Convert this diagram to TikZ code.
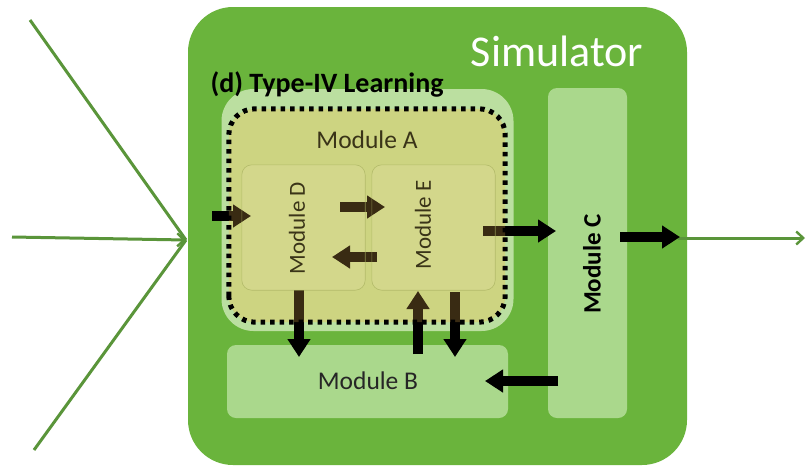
\documentclass[tikz,border=0pt]{standalone}
\usepackage{fontspec}
\setmainfont{Carlito}
\usetikzlibrary{arrows.meta,calc}
\definecolor{simg}{HTML}{6AB43C}
\definecolor{halog}{HTML}{BBDFA0}
\definecolor{moda}{HTML}{D3F29E}
\definecolor{overl}{HTML}{C09040}
\definecolor{modde}{HTML}{DCF7AC}
\definecolor{modline}{HTML}{A8B060}
\definecolor{modc}{HTML}{AAD88C}
\definecolor{linkg}{HTML}{5A953A}
\definecolor{txtd}{HTML}{3A3418}
\tikzset{
  blk/.style={draw=none,inner sep=0pt},
  bigarrow/.style={line width=10pt,-{Triangle[length=18pt,width=22pt]}},
  greenline/.style={draw=linkg,line width=3pt},
  greenarrow/.style={greenline,-{Straight Barb[length=7pt,width=13pt,line width=2.4pt]}}
}
\begin{document}
\begin{tikzpicture}[x=1pt,y=-1pt]
\useasboundingbox (0,0) rectangle (807,467);
\fill[white] (0,0) rectangle (807,467);

% simulator
\node[blk,fill=simg,rounded corners=45pt,minimum width=499pt,minimum height=458pt] (sim) at (437.5,236) {};

% inputs
\coordinate (i1) at (30,20);
\coordinate (i2) at (12,237);
\coordinate (i3) at (34,450);
\coordinate (tipin) at (186,240);
\draw[greenline] (i1) -- (tipin);
\draw[greenline] (i3) -- (tipin);
\draw[greenarrow] (i2) -- (tipin);

% output
\coordinate (o1) at (678,238);
\coordinate (o2) at (805,238);
\draw[greenarrow] (o1) -- (o2);

% halo and module A base
\node[blk,fill=halog,rounded corners=32pt,minimum width=292pt,minimum height=242pt] (halo) at (367.5,210) {};
\node[blk,fill=moda,rounded corners=26pt,minimum width=276pt,minimum height=213pt] (modA) at (367,215.5) {};

% module D and E boxes
\node[blk,fill=modde,rounded corners=10pt,minimum width=123pt,minimum height=125pt] (modD) at (303.5,227.5) {};
\node[blk,fill=modde,rounded corners=10pt,minimum width=123pt,minimum height=125pt] (modE) at (433.5,227.5) {};

% module B and C
\node[blk,fill=modc,rounded corners=9pt,minimum width=281pt,minimum height=73pt] (modB) at (367.5,381.5) {};
\node[blk,fill=modc,rounded corners=9pt,minimum width=79pt,minimum height=330pt] (modC) at (587.5,253) {};

% arrow coordinates
\coordinate (a1s) at (212,216);  \coordinate (a1e) at (251,216);
\coordinate (a2s) at (340,207);  \coordinate (a2e) at (385,207);
\coordinate (a3s) at (377,257);  \coordinate (a3e) at (332,257);
\coordinate (a4s) at (483,231);  \coordinate (a4e) at (556,231);
\coordinate (a5s) at (620,237);  \coordinate (a5e) at (680,237);
\coordinate (a6s) at (299,290);  \coordinate (a6e) at (299,357);
\coordinate (a7s) at (418,354);  \coordinate (a7e) at (418,291);
\coordinate (a8s) at (455,292);  \coordinate (a8e) at (455,357);
\coordinate (a9s) at (558,381);  \coordinate (a9e) at (485,381);

\draw[bigarrow] (a1s) -- (a1e);
\draw[bigarrow] (a2s) -- (a2e);
\draw[bigarrow] (a3s) -- (a3e);
\draw[bigarrow] (a4s) -- (a4e);
\draw[bigarrow] (a5s) -- (a5e);
\draw[bigarrow] (a6s) -- (a6e);
\draw[bigarrow] (a7s) -- (a7e);
\draw[bigarrow] (a8s) -- (a8e);
\draw[bigarrow] (a9s) -- (a9e);

% translucent overlay of module A
\fill[overl,opacity=0.3,rounded corners=26pt] (modA.south west) rectangle (modA.north east);
\draw[modline,line width=0.6pt,opacity=0.7,rounded corners=10pt] (modD.south west) rectangle (modD.north east);
\draw[modline,line width=0.6pt,opacity=0.7,rounded corners=10pt] (modE.south west) rectangle (modE.north east);
% dotted border
\draw[black,line width=5pt,dash pattern=on 4.5pt off 5pt,rounded corners=26pt] (modA.south west) rectangle (modA.north east);

% texts
\node[white,font=\fontsize{44}{44}\selectfont] (simlab) at (557,51) {Simulator};
\node[black,font=\bfseries\fontsize{28}{28}\selectfont,anchor=west] (typelab) at (207,84) {(d) Type-IV Learning};
\node[txtd,font=\fontsize{25.5}{25.5}\selectfont] (alab) at (367,140) {Module A};
\node[txtd,font=\fontsize{23}{23}\selectfont,rotate=90] (dlab) at (297,228) {Module D};
\node[txtd,font=\fontsize{23}{23}\selectfont,rotate=90] (elab) at (423,225) {Module E};
\node[black,font=\bfseries\fontsize{25}{25}\selectfont,rotate=90] (clab) at (592,264) {Module C};
\node[black!85,font=\fontsize{25.5}{25.5}\selectfont] (blab) at (368,381) {Module B};
\end{tikzpicture}
\end{document}
